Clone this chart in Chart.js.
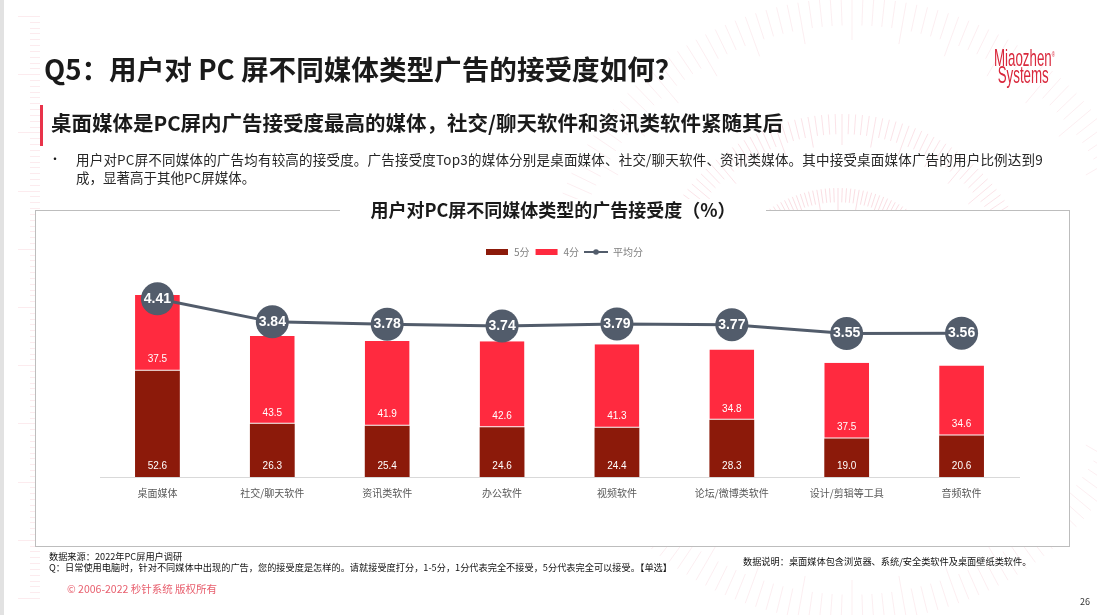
<!DOCTYPE html>
<html lang="zh-CN">
<head>
<meta charset="utf-8">
<title>Q5</title>
<script src="https://cdn.jsdelivr.net/npm/chart.js@4"></script>
<style>
    html, body { margin: 0; padding: 0; background: #fff; }
    body { position: relative; width: 1097px; height: 615px; overflow: hidden; font-family: "Noto Sans CJK SC", "Noto Sans", sans-serif; color: #1a1a1a; }
    .abs { position: absolute; white-space: nowrap; line-height: 1; }
    #bg { position: absolute; left: 0; top: 0; }
    #strip { position: absolute; left: 0; top: 0; width: 4px; height: 615px; background: #e2e2e2; }
    #panel { position: absolute; left: 35px; top: 210px; width: 1033px; height: 335px; border: 1px solid #bdbdbd; background: #fff; }
    #chart-box { position: absolute; left: 35px; top: 210px; width: 1034px; height: 336px; }
    #accent { position: absolute; left: 40px; top: 105px; width: 3px; height: 41px; background: #e8334a; }
    #page-title { left: 44px; top: 55px; font-size: 27.6px; font-weight: 700; }
    #sub-title { left: 51px; top: 112px; font-size: 20.5px; font-weight: 700; }
    #bullet { left: 49px; top: 153px; font-size: 12px; }
    #line-1 { left: 76px; top: 153px; font-size: 13.5px; letter-spacing: 0.2px; color: #262626; }
    #line-2 { left: 76px; top: 171px; font-size: 13.5px; letter-spacing: 0; color: #262626; }
    #chart-title { left: 340px; top: 199px; width: 426px; text-align: center; background: #fff; font-size: 18px; font-weight: 700; line-height: 20px; }
    .foot { font-size: 9.2px; color: #111; }
    #copy { left: 67px; top: 584px; font-size: 10.5px; color: #e8606f; }
    #page-no { left: 1080px; top: 597px; font-size: 9px; color: #333; }
    #logo { left: 994px; top: 46px; color: #d9283c; font-family: "Liberation Sans Narrow", "Liberation Sans", sans-serif; font-size: 24px; line-height: 17px; transform: scaleX(.555); transform-origin: left top; }
    #logo span { font-size: 8px; vertical-align: 9px; }
</style>
</head>
<body>
<canvas id="bg" width="1097" height="615"></canvas>
<div id="strip"></div>
<div id="panel"></div>
<div id="chart-box"><canvas id="chart"></canvas></div>

<div id="page-title" class="abs">Q5：用户对 PC 屏不同媒体类型广告的接受度如何？</div>
<div id="logo" class="abs">Miaozhen<span>®</span><br>&nbsp;Systems</div>
<div id="accent"></div>
<div id="sub-title" class="abs">桌面媒体是PC屏内广告接受度最高的媒体，社交/聊天软件和资讯类软件紧随其后</div>
<div id="bullet" class="abs">•</div>
<div id="line-1" class="abs">用户对PC屏不同媒体的广告均有较高的接受度。广告接受度Top3的媒体分别是桌面媒体、社交/聊天软件、资讯类媒体。其中接受桌面媒体广告的用户比例达到9</div>
<div id="line-2" class="abs">成，显著高于其他PC屏媒体。</div>
<div id="chart-title" class="abs">用户对PC屏不同媒体类型的广告接受度（%）</div>
<div class="abs foot" style="left:49px;top:552px">数据来源：2022年PC屏用户调研</div>
<div class="abs foot" style="left:49px;top:563px">Q：日常使用电脑时，针对不同媒体中出现的广告，您的接受度是怎样的。请就接受度打分，1-5分，1分代表完全不接受，5分代表完全可以接受。【单选】</div>
<div class="abs foot" style="left:743px;top:557px">数据说明：桌面媒体包含浏览器、系统/安全类软件及桌面壁纸类软件。</div>
<div id="copy" class="abs">© 2006-2022 秒针系统 版权所有</div>
<div id="page-no" class="abs">26</div>

<script>
const Categories = ['桌面媒体', '社交/聊天软件', '资讯类软件', '办公软件', '视频软件', '论坛/微博类软件', '设计/剪辑等工具', '音频软件'];
const Score5 = [52.6, 26.3, 25.4, 24.6, 24.4, 28.3, 19.0, 20.6];
const Score4 = [37.5, 43.5, 41.9, 42.6, 41.3, 34.8, 37.5, 34.6];
const AverageScore = [4.41, 3.84, 3.78, 3.74, 3.79, 3.77, 3.55, 3.56];

const DARK_RED = '#8c1a0a';
const RED = '#ff2a3f';
const SLATE = '#525c6b';

// background decoration: tick rings and the ruler on the left
const draw_Decoration = () => {
    const ctx = document.getElementById('bg').getContext('2d');
    ctx.lineWidth = 1;

    const ring = (cx, cy, inner, outer, color) => {
        ctx.strokeStyle = color;
        for (let a = 0; a < 360; a += 2) {
            const rad = a * Math.PI / 180;
            const start = a % 10 == 0 ? inner : inner + (outer - inner) * 0.35;
            ctx.beginPath();
            ctx.moveTo(cx + Math.cos(rad) * start, cy + Math.sin(rad) * start);
            ctx.lineTo(cx + Math.cos(rad) * outer, cy + Math.sin(rad) * outer);
            ctx.stroke();
        }
    };
    ring(852, 310, 270, 312, 'rgba(225, 70, 100, 0.09)');
    ring(842, 310, 165, 196, 'rgba(225, 70, 100, 0.15)');
    ring(838, 310, 100, 122, 'rgba(225, 70, 100, 0.18)');

    ctx.strokeStyle = 'rgba(225, 70, 100, 0.11)';
    for (let i = 0; i <= 100; i++) {
        const y = Math.round(16 + i * 5.82) + 0.5;
        ctx.beginPath();
        ctx.moveTo(i % 10 == 0 ? 18 : 30, y);
        ctx.lineTo(40, y);
        ctx.stroke();
    }
};

// small canvases used as legend swatches
const make_Swatch = (color, withDot) => {
    const c = document.createElement('canvas');
    c.width = 24;
    c.height = 8;
    const ctx = c.getContext('2d');
    ctx.fillStyle = color;
    if (withDot) {
        ctx.fillRect(0, 3, 24, 2);
        ctx.beginPath();
        ctx.arc(12, 4, 2.8, 0, Math.PI * 2);
        ctx.fill();
    } else {
        ctx.fillRect(1, 1, 22, 6);
    }
    return c;
};

const LabelPlugin = {
    id: 'valueLabels',
    afterDatasetsDraw(chart) {
        const ctx = chart.ctx;
        ctx.save();
        ctx.textAlign = 'center';
        ctx.textBaseline = 'middle';
        ctx.fillStyle = '#fff';
        chart.data.datasets.forEach((ds, i) => {
            chart.getDatasetMeta(i).data.forEach((el, j) => {
                if (ds.type == 'line') {
                    ctx.font = 'bold 14px "Liberation Sans", sans-serif';
                    ctx.fillText(ds.data[j].toFixed(2), el.x, el.y);
                } else {
                    ctx.font = '10px "Liberation Sans", sans-serif';
                    ctx.fillText(ds.data[j].toFixed(1), el.x, el.base - 11);
                }
            });
        });
        ctx.restore();
    }
};

// the legend sits a bit off the plot centre, above the space it reserves
const LegendNudge = {
    id: 'legendNudge',
    afterLayout(chart) {
        chart.legend.left += 4.5;
        chart.legend.right += 4.5;
        chart.legend.top -= 8;
    }
};

const Swatches = [make_Swatch(DARK_RED, false), make_Swatch(RED, false), make_Swatch(SLATE, true)];

const ChartConfig = {
    data: {
        labels: Categories,
        datasets: [
            {
                type: 'bar',
                label: '5分',
                data: Score5,
                backgroundColor: DARK_RED,
                stack: 'a',
                yAxisID: 'y',
                order: 2,
                barPercentage: 0.39,
                categoryPercentage: 1
            },
            {
                type: 'bar',
                label: '4分',
                data: Score4,
                backgroundColor: RED,
                borderColor: '#fff',
                borderWidth: { bottom: 1 },
                borderSkipped: false,
                stack: 'a',
                yAxisID: 'y',
                order: 2,
                barPercentage: 0.39,
                categoryPercentage: 1
            },
            {
                type: 'line',
                label: '平均分',
                data: AverageScore,
                borderColor: SLATE,
                borderWidth: 3,
                backgroundColor: SLATE,
                pointRadius: 16.5,
                pointHoverRadius: 16.5,
                pointBorderWidth: 0,
                tension: 0,
                yAxisID: 'y2',
                order: 1
            }
        ]
    },
    options: {
        responsive: true,
        maintainAspectRatio: false,
        animation: false,
        layout: { padding: { left: 65, right: 50, top: 40, bottom: 0 } },
        scales: {
            x: {
                stacked: true,
                grid: { display: false, drawTicks: false },
                border: { color: '#d9d9d9' },
                ticks: {
                    color: '#595959',
                    font: { size: 10, family: '"Noto Sans CJK SC"' },
                    padding: 10,
                    autoSkip: false,
                    maxRotation: 0
                },
                afterFit: (scale) => { scale.height = 69; }
            },
            y: { display: false, stacked: true, min: 0, max: 100 },
            y2: { display: false, min: 0, max: 5 }
        },
        plugins: {
            tooltip: { enabled: false },
            title: { display: false },
            legend: {
                position: 'top',
                labels: {
                    color: '#7f7f7f',
                    font: { size: 10, family: '"Noto Sans CJK SC"' },
                    padding: 5,
                    usePointStyle: true,
                    pointStyleWidth: 24,
                    generateLabels: (chart) => {
                        const items = Chart.defaults.plugins.legend.labels.generateLabels(chart);
                        items.sort((a, b) => a.datasetIndex - b.datasetIndex);
                        items.forEach((item) => { item.pointStyle = Swatches[item.datasetIndex]; });
                        return items;
                    }
                }
            }
        }
    },
    plugins: [LabelPlugin, LegendNudge]
};

document.addEventListener('DOMContentLoaded', () => {
    draw_Decoration();
    new Chart(document.getElementById('chart').getContext('2d'), ChartConfig);
});
</script>
</body>
</html>
